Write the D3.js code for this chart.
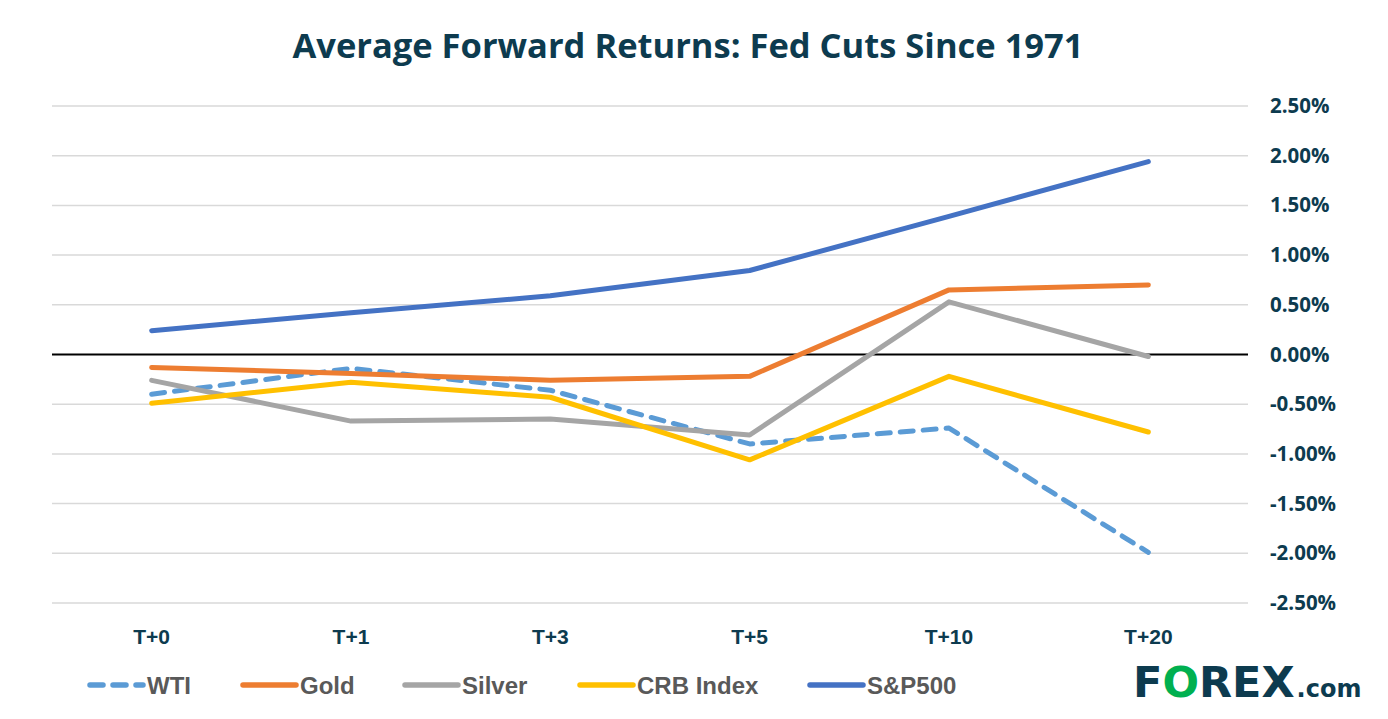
<!DOCTYPE html>
<html>
<head>
<meta charset="utf-8">
<script src="https://cdn.jsdelivr.net/npm/d3@7"></script>
<style>
  body { margin: 0; background: #fff; }
  svg { display: block; }
</style>
</head>
<body>
<div id="chart-area"></div>
<script>

// SVG Size
var width = 1388,
    height = 719;

// Chart values (percent)
var periods = ["T+0", "T+1", "T+3", "T+5", "T+10", "T+20"];
var seriesNames = ["WTI", "Gold", "Silver", "CRB Index", "S&P500"];
var wti    = [-0.40, -0.14, -0.36, -0.90, -0.74, -1.99];
var gold   = [-0.13, -0.19, -0.26, -0.22,  0.65,  0.70];
var silver = [-0.26, -0.67, -0.65, -0.81,  0.53, -0.02];
var crb    = [-0.49, -0.28, -0.43, -1.06, -0.22, -0.78];
var sp500  = [ 0.24,  0.42,  0.59,  0.845, 1.39,  1.94];
var yTicks = [2.5, 2, 1.5, 1, 0.5, 0, -0.5, -1, -1.5, -2, -2.5];

var seriesValues = [wti, gold, silver, crb, sp500];
var colors = ["#5b9bd5", "#ed7d31", "#a5a5a5", "#ffc000", "#4472c4"];

var navy = "#0d3b4f";

var svg = d3.select("#chart-area")
    .append("svg")
    .attr("width", width)
    .attr("height", height);

// title
svg.append("text")
    .attr("x", 688)
    .attr("y", 58)
    .attr("text-anchor", "middle")
    .attr("font-family", "Open Sans")
    .attr("font-weight", "bold")
    .attr("font-size", 34.5)
    .attr("fill", navy)
    .text("Average Forward Returns: Fed Cuts Since 1971");

var xScale = d3.scaleBand()
    .domain(periods)
    .range([52, 1248]);

var yScale = d3.scaleLinear()
    .domain([-2.5, 2.5])
    .range([603, 106]);

// gridlines
svg.append("g")
    .selectAll("line")
    .data(yTicks.filter(function (d) { return d !== 0; }))
    .enter()
    .append("line")
    .attr("x1", 52)
    .attr("x2", 1248)
    .attr("y1", function (d) { return yScale(d); })
    .attr("y2", function (d) { return yScale(d); })
    .attr("stroke", "#d9d9d9")
    .attr("stroke-width", 1.5);

// right axis labels (plain hyphen for negatives, like Excel)
var yAxis = d3.axisRight(yScale)
    .tickValues(yTicks)
    .tickSize(0)
    .tickPadding(22)
    .tickFormat(function (d) { return d.toFixed(2) + "%"; });

var yG = svg.append("g")
    .attr("transform", "translate(1248,0)")
    .call(yAxis);
yG.select(".domain").remove();
yG.selectAll("text")
    .attr("font-family", "Open Sans")
    .attr("font-weight", "bold")
    .attr("font-size", 20.5)
    .attr("fill", navy);

// x axis labels
var xAxis = d3.axisBottom(xScale).tickSize(0).tickPadding(26);
var xG = svg.append("g")
    .attr("transform", "translate(0,603)")
    .call(xAxis);
xG.select(".domain").remove();
xG.selectAll("text")
    .attr("font-family", "Liberation Sans, Arial")
    .attr("font-weight", "bold")
    .attr("font-size", 21)
    .attr("fill", navy);

// zero line
svg.append("line")
    .attr("x1", 52)
    .attr("x2", 1248)
    .attr("y1", yScale(0))
    .attr("y2", yScale(0))
    .attr("stroke", "#000")
    .attr("stroke-width", 2);

var line = d3.line()
    .x(function (d, i) { return xScale(periods[i]) + xScale.bandwidth() / 2; })
    .y(function (d) { return yScale(d); });

seriesValues.forEach(function (vals, k) {
    svg.append("path")
        .datum(vals)
        .attr("d", line)
        .attr("fill", "none")
        .attr("stroke", colors[k])
        .attr("stroke-width", 5)
        .attr("stroke-linecap", "round")
        .attr("stroke-linejoin", "round")
        .attr("stroke-dasharray", k === 0 ? "13,10" : null);
});

// legend
var legendX = [90, 243, 405, 580, 810];
var legend = svg.append("g");
seriesNames.forEach(function (name, i) {
    legend.append("line")
        .attr("x1", legendX[i])
        .attr("x2", legendX[i] + 53)
        .attr("y1", 685)
        .attr("y2", 685)
        .attr("stroke", colors[i])
        .attr("stroke-width", 5.5)
        .attr("stroke-linecap", "round")
        .attr("stroke-dasharray", i === 0 ? "13,10" : null);
    legend.append("text")
        .attr("x", legendX[i] + 57)
        .attr("y", 694)
        .attr("font-family", "Liberation Sans, Arial")
        .attr("font-weight", "bold")
        .attr("font-size", 24)
        .attr("fill", "#595959")
        .text(name);
});

// logo
var logo = svg.append("text")
    .attr("x", 1133)
    .attr("y", 697)
    .attr("font-family", "DejaVu Sans")
    .attr("font-weight", "bold")
    .attr("font-size", 43)
    .attr("fill", navy);
logo.append("tspan").text("F");
logo.append("tspan").attr("fill", "#00b050").text("O");
logo.append("tspan").text("REX");
logo.append("tspan").attr("font-size", 24).attr("dx", 2).text(".com");

</script>
</body>
</html>
